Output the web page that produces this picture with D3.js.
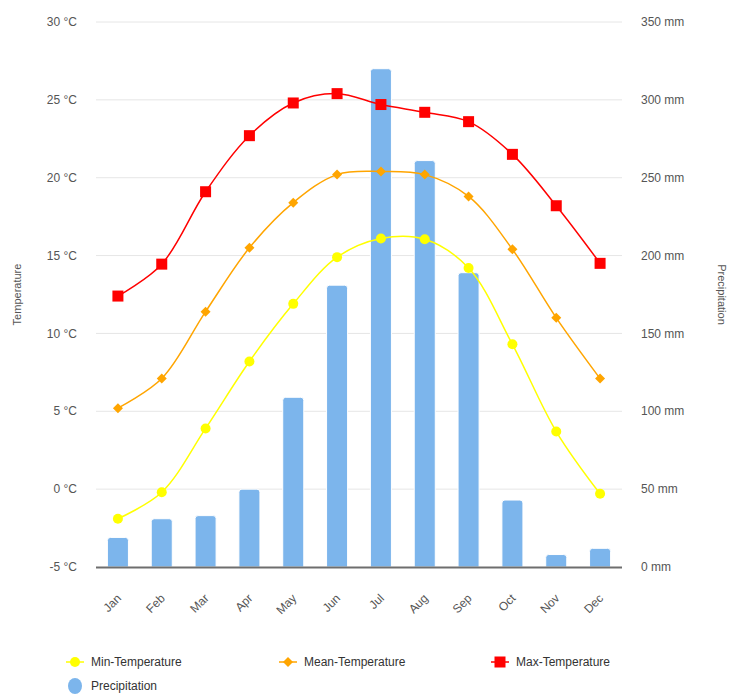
<!DOCTYPE html>
<html>
<head>
<meta charset="utf-8">
<script src="https://cdn.jsdelivr.net/npm/d3@7"></script>
<style>
  html, body { margin: 0; padding: 0; background: #fff; }
  svg { display: block; font-family: "Liberation Sans", Arial, Helvetica, sans-serif; }
</style>
</head>
<body>
<svg id="chart" width="732" height="694"></svg>
<script>
// Monthly climate data
const months = ["Jan", "Feb", "Mar", "Apr", "May", "Jun", "Jul", "Aug", "Sep", "Oct", "Nov", "Dec"];
const minTemp = [-1.9, -0.2, 3.9, 8.2, 11.9, 14.9, 16.1, 16.05, 14.2, 9.3, 3.7, -0.3];
const meanTemp = [5.2, 7.1, 11.4, 15.5, 18.4, 20.2, 20.4, 20.2, 18.8, 15.4, 11.0, 7.1];
const maxTemp = [12.4, 14.45, 19.1, 22.7, 24.8, 25.4, 24.7, 24.2, 23.6, 21.5, 18.2, 14.5];
const precipitation = [19, 31, 33, 50, 109, 181, 320, 261, 189, 43, 8, 12];
const tempTicks = [-5, 0, 5, 10, 15, 20, 25, 30];
const precipTicks = [0, 50, 100, 150, 200, 250, 300, 350];

const svg = d3.select("#chart");
const plotLeft = 96, plotRight = 622, plotTop = 22, plotBottom = 567;

const x = d3.scaleBand().domain(months).range([plotLeft, plotRight]).padding(0);
const cx = m => x(m) + x.bandwidth() / 2;
const yT = d3.scaleLinear().domain([-5, 30]).range([plotBottom, plotTop]);
const yP = d3.scaleLinear().domain([0, 350]).range([plotBottom, plotTop]);

const textColor = "#555";

// Horizontal grid lines
svg.append("g").selectAll("line").data(tempTicks.filter(t => t !== -5)).join("line")
  .attr("x1", plotLeft).attr("x2", plotRight)
  .attr("y1", d => yT(d)).attr("y2", d => yT(d))
  .attr("stroke", "#e6e6e6").attr("stroke-width", 1);

// Left axis labels
svg.append("g").selectAll("text").data(tempTicks).join("text")
  .attr("x", 77).attr("y", d => yT(d)).attr("dy", "0.35em")
  .attr("text-anchor", "end").attr("font-size", 12).attr("fill", textColor)
  .text(d => d + " °C");

// Right axis labels
svg.append("g").selectAll("text").data(precipTicks).join("text")
  .attr("x", 641).attr("y", d => yP(d)).attr("dy", "0.35em")
  .attr("text-anchor", "start").attr("font-size", 12).attr("fill", textColor)
  .text(d => d + " mm");

// Axis titles
svg.append("text")
  .attr("transform", `translate(21,${(plotTop + plotBottom) / 2}) rotate(-90)`)
  .attr("text-anchor", "middle").attr("font-size", 11).attr("fill", textColor)
  .text("Temperature");
svg.append("text")
  .attr("transform", `translate(718,${(plotTop + plotBottom) / 2}) rotate(90)`)
  .attr("text-anchor", "middle").attr("font-size", 11).attr("fill", textColor)
  .text("Precipitation");

// Precipitation bars with rounded tops
const barW = x.bandwidth() * 0.48;
const cornerR = 3;
function barPath(x0, y0, w, y1) {
  const h = y1 - y0;
  const rr = Math.min(cornerR, h / 2, w / 2);
  return `M${x0},${y1}V${y0 + rr}Q${x0},${y0} ${x0 + rr},${y0}H${x0 + w - rr}Q${x0 + w},${y0} ${x0 + w},${y0 + rr}V${y1}Z`;
}
svg.append("g").selectAll("path").data(months).join("path")
  .attr("d", (m, i) => barPath(cx(m) - barW / 2, yP(precipitation[i]), barW, yP(0)))
  .attr("fill", "#7cb5ec").attr("stroke", "#fff").attr("stroke-width", 1);

// X axis line
svg.append("line")
  .attr("x1", plotLeft).attr("x2", plotRight).attr("y1", plotBottom + 0.5).attr("y2", plotBottom + 0.5)
  .attr("stroke", "#6e6e6e").attr("stroke-width", 2);

// Month labels
svg.append("g").selectAll("text").data(months).join("text")
  .attr("transform", m => `translate(${cx(m) + 4},${599}) rotate(-45)`)
  .attr("text-anchor", "end").attr("font-size", 12).attr("fill", textColor)
  .text(m => m);

// Temperature lines
const series = [
  { name: "Min-Temperature", values: minTemp, color: "#ffff00", symbol: "circle" },
  { name: "Mean-Temperature", values: meanTemp, color: "#ffa500", symbol: "diamond" },
  { name: "Max-Temperature", values: maxTemp, color: "#ff0000", symbol: "square" }
];
const line = d3.line().x((d, i) => cx(months[i])).y(d => yT(d)).curve(d3.curveCatmullRom.alpha(0.5));

function drawSymbol(g, type, color, px, py) {
  if (type === "circle") {
    g.append("circle").attr("cx", px).attr("cy", py).attr("r", 5).attr("fill", color);
  } else if (type === "diamond") {
    const s = 5;
    g.append("path").attr("d", `M${px},${py - s}L${px + s},${py}L${px},${py + s}L${px - s},${py}Z`).attr("fill", color);
  } else {
    const s = 11;
    g.append("rect").attr("x", px - s / 2).attr("y", py - s / 2).attr("width", s).attr("height", s).attr("fill", color);
  }
}

series.forEach(s => {
  const g = svg.append("g");
  g.append("path").attr("d", line(s.values)).attr("fill", "none")
    .attr("stroke", s.color).attr("stroke-width", 1.5);
  s.values.forEach((v, i) => drawSymbol(g, s.symbol, s.color, cx(months[i]), yT(v)));
});

// Legend
const legend = svg.append("g").attr("font-size", 12).attr("fill", "#333");
const legendItems = [
  { s: series[0], lx: 75, ly: 662 },
  { s: series[1], lx: 288, ly: 662 },
  { s: series[2], lx: 500, ly: 662 }
];
legendItems.forEach(it => {
  legend.append("line").attr("x1", it.lx - 9).attr("x2", it.lx + 9)
    .attr("y1", it.ly).attr("y2", it.ly).attr("stroke", it.s.color).attr("stroke-width", 1.5);
  drawSymbol(legend, it.s.symbol, it.s.color, it.lx, it.ly);
  legend.append("text").attr("x", it.lx + 16).attr("y", it.ly).attr("dy", "0.35em")
    .attr("fill", "#333").text(it.s.name);
});
legend.append("ellipse").attr("cx", 75).attr("cy", 686).attr("rx", 7).attr("ry", 8).attr("fill", "#7cb5ec");
legend.append("text").attr("x", 91).attr("y", 686).attr("dy", "0.35em").attr("fill", "#333").text("Precipitation");
</script>
</body>
</html>
